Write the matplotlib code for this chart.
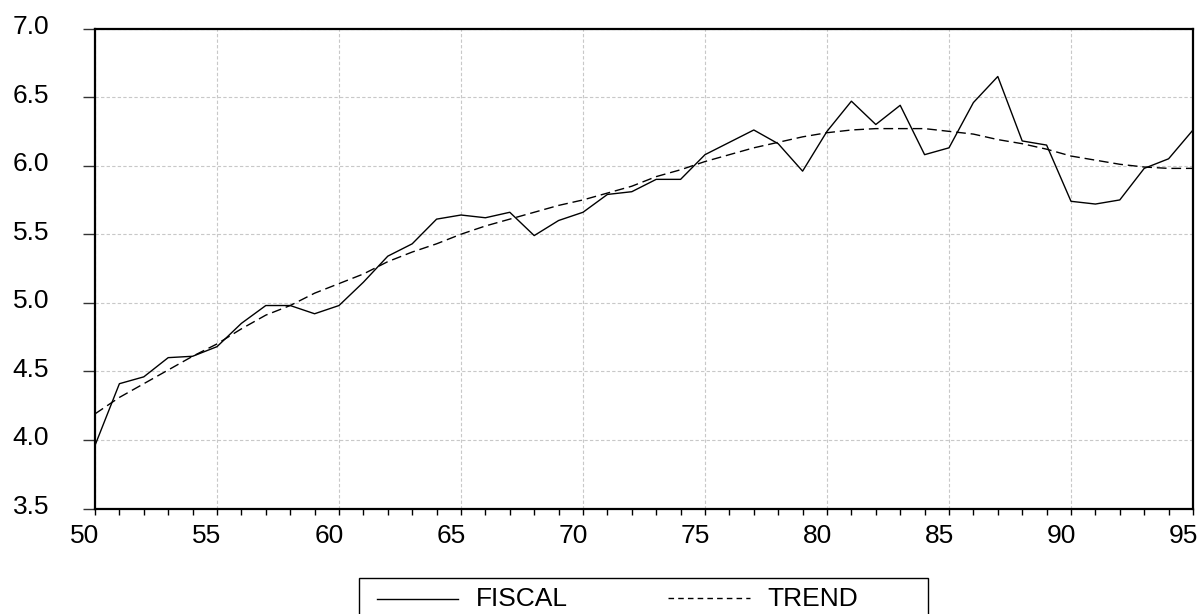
import numpy as np
import matplotlib.pyplot as plt
from matplotlib.lines import Line2D
from matplotlib.patches import Rectangle
from matplotlib.ticker import MultipleLocator
from matplotlib.transforms import ScaledTranslation

plt.rcParams['font.family'] = ['Liberation Sans', 'DejaVu Sans']

years = np.arange(50, 96)
fiscal = [3.96, 4.41, 4.46, 4.60, 4.61, 4.68, 4.85, 4.98, 4.98, 4.92,
          4.98, 5.15, 5.34, 5.43, 5.61, 5.64, 5.62, 5.66, 5.49, 5.60,
          5.66, 5.79, 5.81, 5.90, 5.90, 6.08, 6.17, 6.26, 6.16, 5.96,
          6.25, 6.47, 6.30, 6.44, 6.08, 6.13, 6.46, 6.65, 6.18, 6.15,
          5.74, 5.72, 5.75, 5.98, 6.05, 6.26]
trend = [4.19, 4.31, 4.41, 4.51, 4.61, 4.70, 4.81, 4.91, 4.98, 5.07,
         5.14, 5.21, 5.30, 5.37, 5.43, 5.50, 5.56, 5.61, 5.66, 5.71,
         5.75, 5.80, 5.85, 5.92, 5.97, 6.03, 6.08, 6.13, 6.17, 6.21,
         6.24, 6.26, 6.27, 6.27, 6.27, 6.25, 6.23, 6.19, 6.16, 6.12,
         6.07, 6.04, 6.01, 5.99, 5.98, 5.98]
xticks = list(range(50, 96, 5))
yticks = [3.5, 4.0, 4.5, 5.0, 5.5, 6.0, 6.5, 7.0]
names = ['FISCAL', 'TREND']

W, H = 1199, 614
fig = plt.figure(figsize=(W / 100, H / 100), dpi=100)
ax = fig.add_axes([95 / W, 1 - 508.5 / H, 1098 / W, 480 / H])

ax.plot(years, fiscal, color='black', lw=1.0)
ax.plot(years, trend, color='black', lw=1.0, dashes=(7, 3.5))

ax.set_xlim(50, 95)
ax.set_ylim(3.5, 7.0)
ax.set_xticks(xticks)
ax.set_yticks(yticks, ['%.1f' % v for v in yticks])
ax.xaxis.set_minor_locator(MultipleLocator(1))

ax.grid(True, which='major', color='#c8c8c8', lw=0.8, ls=(0, (3, 2)))
for s in ax.spines.values():
    s.set_linewidth(1.6)

ax.tick_params(axis='x', which='both', direction='out', length=4, width=1,
               labelsize=19, pad=7)
ax.tick_params(axis='y', direction='out', length=9, width=1, color='#333333',
               labelsize=19, pad=24)

# labels sit a little left of / above their ticks
dx = ScaledTranslation(-0.1, 0, fig.dpi_scale_trans)
dy = ScaledTranslation(0, 0.04, fig.dpi_scale_trans)
for t in ax.xaxis.get_major_ticks():
    t.label1.set_transform(t.label1.get_transform() + dx)
for t in ax.yaxis.get_major_ticks():
    t.label1.set_transform(t.label1.get_transform() + dy)

# legend box drawn by hand below the axes
def fx(px):
    return px / W

def fy(py):
    return 1 - py / H

fig.add_artist(Rectangle((fx(359), fy(625)), fx(928) - fx(359), fy(578) - fy(625),
                         transform=fig.transFigure, fill=False, ec='black', lw=1.0))
fig.add_artist(Line2D([fx(377), fx(458)], [fy(599), fy(599)],
                      transform=fig.transFigure, color='black', lw=1.0))
fig.add_artist(Line2D([fx(668), fx(750)], [fy(598), fy(598)],
                      transform=fig.transFigure, color='black', lw=1.0, dashes=(4, 3)))
fig.text(fx(476), fy(599), names[0], fontsize=19, va='center', ha='left')
fig.text(fx(767), fy(599), names[1], fontsize=19, va='center', ha='left')

fig.savefig('out.png', dpi=100)
